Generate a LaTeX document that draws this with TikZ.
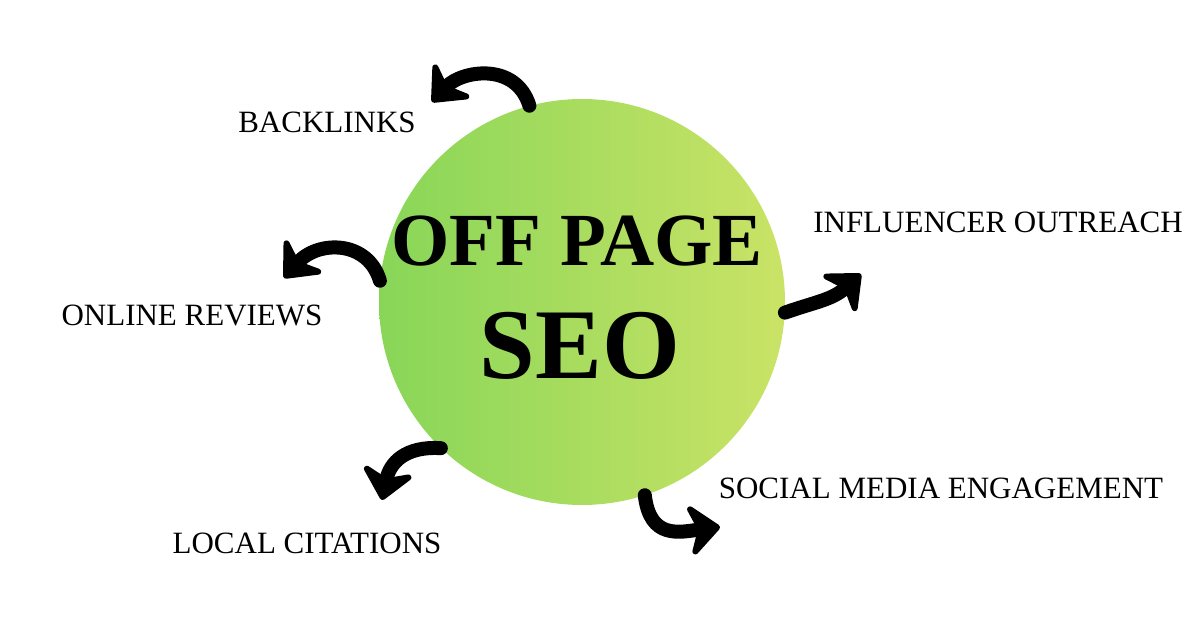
\documentclass[tikz,border=0pt]{standalone}
\usepackage{fontspec}
\setmainfont{Liberation Serif}
\usetikzlibrary{arrows.meta}
\definecolor{leafleft}{RGB}{136,214,88}
\definecolor{leafright}{RGB}{202,227,102}

\begin{document}
\begin{tikzpicture}[x=1pt,y=1pt,
    topic/.style ={font=\fontsize{31}{35}\selectfont, inner sep=0pt},
    headline/.style ={font=\bfseries, inner sep=0pt},
    sweep/.style ={line width=14pt, line cap=round,
      -{Stealth[length=36pt,width=62pt,inset=12pt,round]}}]
   \useasboundingbox (0,0) rectangle (1200,-628);

   \node[circle, minimum size=406pt, inner sep=0pt,
         left color=leafleft, right color=leafright] (seo) at (582,-302) {};
   \node[headline, font=\bfseries\fontsize{75}{80}\selectfont] (off) at (577,-241) {OFF PAGE};
   \node[headline, font=\bfseries\fontsize{100}{104}\selectfont] (seotext) at (580,-346) {SEO};

   \node[topic] (back) at (327,-122) {BACKLINKS};
   \node[topic] (infl) at (998,-222) {INFLUENCER OUTREACH};
   \node[topic] (revs) at (192,-315) {ONLINE REVIEWS};
   \node[topic] (soc)  at (941,-488) {SOCIAL MEDIA ENGAGEMENT};
   \node[topic] (cit)  at (307,-543) {LOCAL CITATIONS};

   \coordinate (backtip) at (432,-102);
   \coordinate (revstip) at (284,-278);
   \coordinate (cittip)  at (382,-500);
   \coordinate (soctip)  at (720,-527);
   \coordinate (infltip) at (861,-274);

   \draw[sweep] (seo.105) .. controls (516,-62) and (462,-70) .. (backtip);
   \draw[sweep] (seo.174) .. controls (368,-240) and (318,-240) .. (revstip);
   \draw[sweep] (seo.226) .. controls (406,-446) and (390,-462) .. (cittip);
   \draw[sweep] (seo.288) .. controls (650,-540) and (680,-532) .. (soctip);
   \draw[sweep] (seo.357) .. controls (815,-302) and (832,-300) .. (infltip);
 \end{tikzpicture}
\end{document}
